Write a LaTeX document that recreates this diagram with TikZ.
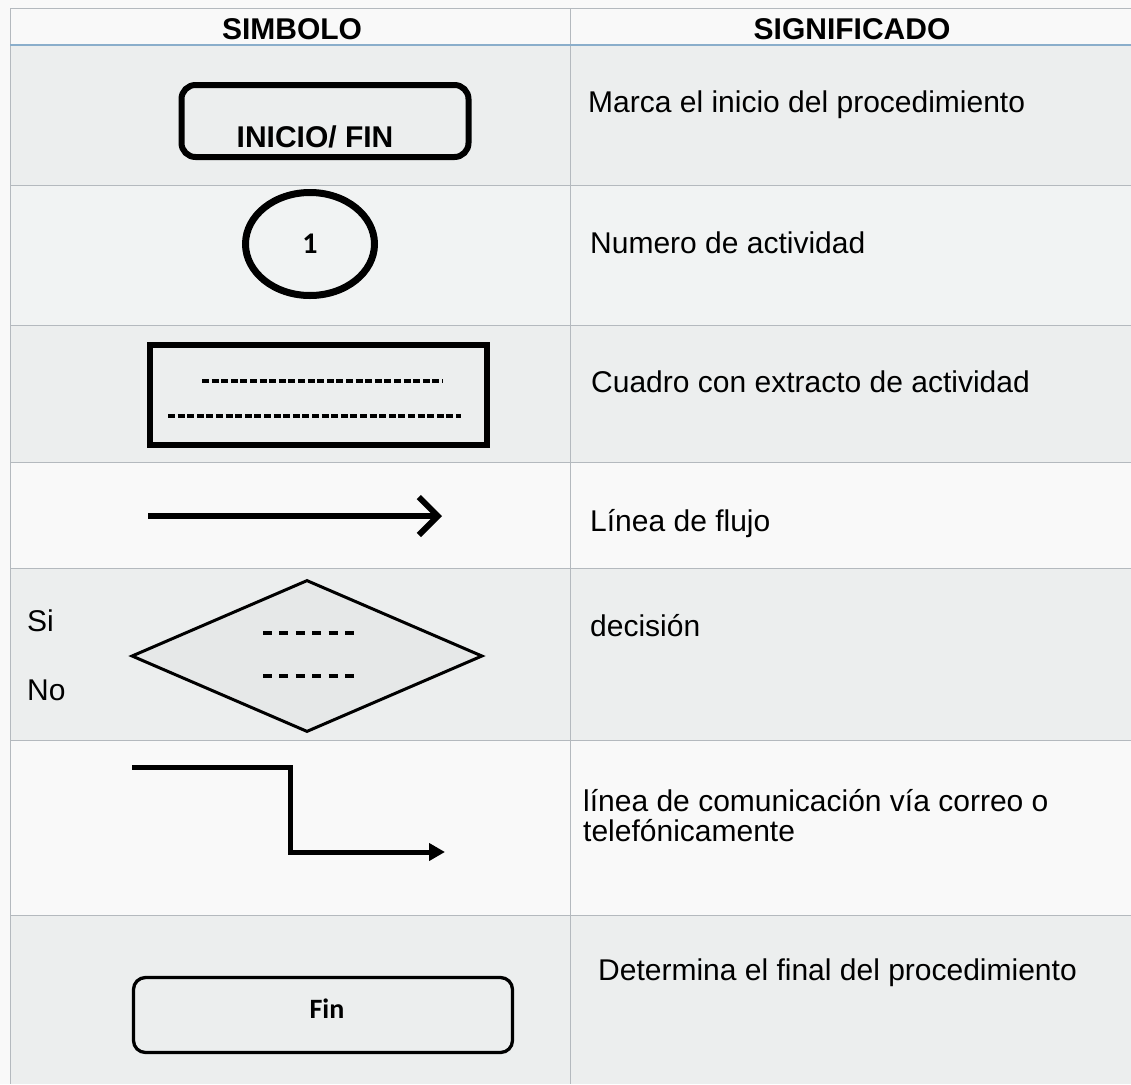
\documentclass[tikz,border=0pt]{standalone}
\usepackage{fontspec}
\setmainfont{Liberation Sans}
\newfontfamily\calfont{Carlito}
\usetikzlibrary{shapes.geometric,arrows.meta}
\definecolor{rowgray}{HTML}{ECEEEE}
\definecolor{rowwhite}{HTML}{F9F9F9}
\definecolor{gridline}{HTML}{B4B9BE}
\definecolor{headline}{HTML}{8AAECB}
\definecolor{diafill}{HTML}{E6E8E8}
\begin{document}
\begin{tikzpicture}[x=1pt,y=-1pt,
  hdr/.style={font=\fontsize{30}{34}\selectfont\bfseries, inner sep=0, anchor=base},
  desc/.style={font=\fontsize{30}{32}\selectfont, inner sep=0, anchor=base west},
  gridln/.style={draw=gridline, line width=1pt},
  dashln/.style={draw=black, line width=4pt, dash pattern=on 7pt off 2.6pt},
  dashdia/.style={draw=black, line width=3.5pt, dash pattern=on 9pt off 7.4pt}
]
\useasboundingbox (0,0) rectangle (1131,1084);
% backgrounds
\fill[rowwhite] (0,0) rectangle (1131,1084);
\fill[rowgray] (10,45) rectangle (1131,185);
\fill[rowgray!60!rowwhite] (10,185) rectangle (1131,325);
\fill[rowgray] (10,325) rectangle (1131,462);
\fill[rowgray] (10,568) rectangle (1131,740);
\fill[rowgray] (10,915) rectangle (1131,1084);
% grid
\draw[gridln] (10,8) -- (1131,8);
\foreach \yy in {185,325,462,568,740,915} \draw[gridln] (10,\yy) -- (1131,\yy);
\draw[gridln] (10,8) -- (10,1084);
\draw[gridln] (570,8) -- (570,1084);
\draw[draw=headline, line width=2pt] (10,45) -- (1131,45);

% header
\node[hdr] (h1) at (292,39) {SIMBOLO};
\node[hdr] (h2) at (852,39) {SIGNIFICADO};

% row 1
\node[draw, line width=6pt, rounded corners=14pt, minimum width=287pt, minimum height=72pt, inner sep=0] (inicio) at (325,121) {};
\node[font=\fontsize{30}{32}\selectfont\bfseries, inner sep=0, anchor=base] (iniciotxt) at (315,147) {INICIO/ FIN};
\node[desc] (t1) at (588,112) {Marca el inicio del procedimiento};

% row 2
\node[draw, ellipse, line width=7pt, minimum width=129pt, minimum height=103pt, inner sep=0] (num) at (310,244) {\calfont\bfseries\fontsize{30}{30}\selectfont 1};
\node[desc] (t2) at (590,253) {Numero de actividad};

% row 3
\node[draw, line width=5.5pt, minimum width=337pt, minimum height=100pt, inner sep=0] (cuadro) at (318.5,395) {};
\draw[dashln] (202,381) -- (443,381);
\draw[dashln] (168,416) -- (461,416);
\node[desc] (t3) at (591,392) {Cuadro con extracto de actividad};

% row 4
\coordinate (fa) at (148,516);
\coordinate (fb) at (442,516);
\draw[line width=6pt, -{Straight Barb[length=19pt,width=38pt]}] (fa) -- (fb);
\node[desc] (t4) at (590,531) {Línea de flujo};

% row 5
\node[draw, diamond, fill=diafill, line width=3pt, minimum width=351pt, minimum height=152pt, inner sep=0] (dec) at (307,656) {};
\draw[dashdia] (263,633) -- (355,633);
\draw[dashdia] (263,676) -- (355,676);
\node[desc] (si) at (27,631) {Si};
\node[desc] (no) at (27,700) {No};
\node[desc] (t5) at (590,636) {decisión};

% row 6
\coordinate (ca) at (132,767);
\coordinate (cb) at (290,767);
\coordinate (cc) at (290,852);
\coordinate (cd) at (445,852);
\draw[line width=5pt, line join=miter, -{Triangle[length=16pt,width=17pt]}] (ca) -- (cb) -- (cc) -- (cd);
\node[desc] (t6a) at (583,811) {línea de comunicación vía correo o};
\node[desc] (t6b) at (583,841) {telefónicamente};

% row 7
\node[draw, line width=3.3pt, rounded corners=12pt, minimum width=379pt, minimum height=75pt, inner sep=0] (fin) at (323,1015) {};
\node[font=\calfont\bfseries\fontsize{28}{30}\selectfont, inner sep=0] (fintxt) at (327,1009) {Fin};
\node[desc] (t7) at (598,980) {Determina el final del procedimiento};
\end{tikzpicture}
\end{document}
